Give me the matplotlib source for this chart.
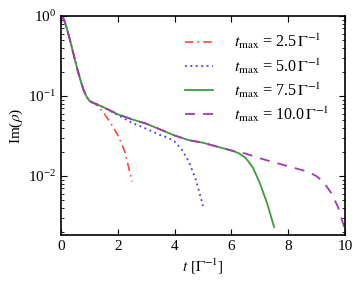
import numpy as np
import matplotlib
matplotlib.use("Agg")
import matplotlib.pyplot as plt
from matplotlib.ticker import LogLocator, NullFormatter, MultipleLocator

# values (Im(rho) vs t in units of 1/Gamma)
t_25 = [0, 0.1, 0.2, 0.3, 0.4, 0.5, 0.6, 0.7, 0.8, 0.9, 1.0, 1.1,
        1.25, 1.5, 1.75, 2.0, 2.25, 2.5]
im_25 = [1.0, 0.912, 0.708, 0.525, 0.380, 0.275, 0.200, 0.151, 0.117, 0.098, 0.087, 0.083,
         0.0776, 0.0617, 0.0457, 0.0324, 0.0200, 0.0085]

t_50 = [0, 0.1, 0.2, 0.3, 0.4, 0.5, 0.6, 0.7, 0.8, 0.9, 1.0, 1.1,
        1.25, 1.5, 2.0, 2.5, 3.0, 3.5, 3.75, 4.0, 4.25, 4.5, 4.75, 5.0]
im_50 = [1.0, 0.912, 0.708, 0.525, 0.380, 0.275, 0.200, 0.151, 0.117, 0.098, 0.087, 0.083,
         0.079, 0.072, 0.0575, 0.0462, 0.0389, 0.0324, 0.0302, 0.0269, 0.0214, 0.0151,
         0.0089, 0.0042]

t_75 = [0, 0.1, 0.2, 0.3, 0.4, 0.5, 0.6, 0.7, 0.8, 0.9, 1.0, 1.1,
        1.25, 1.5, 2.0, 2.5, 3.0, 3.5, 4.0, 4.5, 5.0, 5.5, 6.0, 6.25, 6.5, 6.75,
        7.0, 7.25, 7.5]
im_75 = [1.0, 0.912, 0.708, 0.525, 0.380, 0.275, 0.200, 0.151, 0.117, 0.098, 0.087, 0.083,
         0.079, 0.072, 0.059, 0.051, 0.045, 0.038, 0.032, 0.028, 0.026, 0.0232, 0.0208,
         0.0193, 0.0168, 0.0128, 0.0081, 0.0046, 0.0023]

t_100 = [0, 0.1, 0.2, 0.3, 0.4, 0.5, 0.6, 0.7, 0.8, 0.9, 1.0, 1.1,
         1.25, 1.5, 2.0, 2.5, 3.0, 3.5, 4.0, 4.5, 5.0, 5.5, 6.0, 6.5, 7.0, 7.5,
         8.0, 8.5, 8.75, 9.0, 9.25, 9.5, 9.75, 10.0]
im_100 = [1.0, 0.912, 0.708, 0.525, 0.380, 0.275, 0.200, 0.151, 0.117, 0.098, 0.087, 0.083,
          0.079, 0.072, 0.059, 0.051, 0.045, 0.038, 0.032, 0.028, 0.026, 0.0232, 0.0208,
          0.019, 0.0166, 0.0148, 0.0132, 0.0118, 0.0110, 0.0099, 0.0083, 0.0062, 0.0041,
          0.0021]

labels = [r"$t_{\rm max}$ = 2.5$\,\Gamma^{-1}$", r"$t_{\rm max}$ = 5.0$\,\Gamma^{-1}$",
          r"$t_{\rm max}$ = 7.5$\,\Gamma^{-1}$", r"$t_{\rm max}$ = 10.0$\,\Gamma^{-1}$"]

plt.rcParams['font.family'] = 'serif'
plt.rcParams['font.serif'] = ['Liberation Serif', 'DejaVu Serif']
plt.rcParams['mathtext.fontset'] = 'stix'
plt.rcParams['font.size'] = 11

fig = plt.figure(figsize=(3.61, 2.85), dpi=100)
ax = fig.add_axes([0.169, 0.175, 0.787, 0.769])

ax.plot(t_25, im_25, color='#ff4545', ls=(0, (5, 2.5, 1, 2.5)), lw=1.2, label=labels[0])
ax.plot(t_50, im_50, color='#3a3aff', ls=(0, (1, 2)), lw=1.3, label=labels[1])
ax.plot(t_75, im_75, color='#3c9c3c', ls='-', lw=1.3, label=labels[2])
ax.plot(t_100, im_100, color='#a43ab0', ls=(0, (5.5, 4.5)), lw=1.3, label=labels[3])

ax.set_yscale('log')
ax.set_xlim(0, 10)
ax.set_ylim(10**-2.74, 1)
ax.xaxis.set_major_locator(MultipleLocator(2))
ax.yaxis.set_major_locator(LogLocator(base=10, numticks=10))
ax.yaxis.set_minor_locator(LogLocator(base=10, subs=np.arange(2, 10), numticks=10))
ax.yaxis.set_minor_formatter(NullFormatter())
ax.tick_params(which='both', direction='in', top=True, right=True)
ax.tick_params(which='major', length=4, width=0.8)
ax.tick_params(which='minor', length=2, width=0.6)
for s in ax.spines.values():
    s.set_linewidth(1.2)

ax.set_xlabel(r"$t$ [$\Gamma^{-1}$]", labelpad=3)
ax.set_ylabel(r"Im($\rho$)", labelpad=2)

ax.legend(loc='upper right', frameon=False, handlelength=1.8, labelspacing=0.3,
          handletextpad=1.3, borderaxespad=0.6, fontsize=11.5)

fig.savefig('out.png', dpi=100)
